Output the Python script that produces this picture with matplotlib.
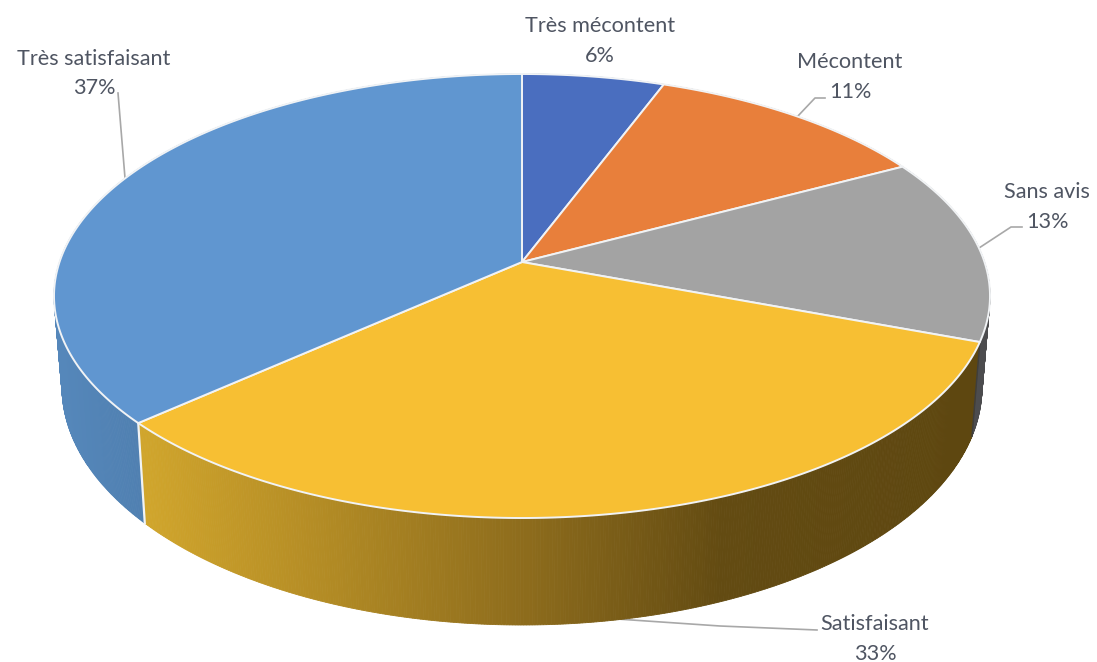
import numpy as np
import matplotlib
matplotlib.use("Agg")
import matplotlib.pyplot as plt
from matplotlib.colors import LinearSegmentedColormap

categories = ["Très mécontent", "Mécontent", "Sans avis", "Satisfaisant", "Très satisfaisant"]
values = [5.7, 11.49, 13.49, 32.7, 36.62]
top_colors = ["#4A6EBF", "#E87F3B", "#A3A3A3", "#F7BF33", "#6096D0"]
label_pos = [(600, 26), (850, 62), (1047, 192), (875, 624), (94, 59)]
leaders = [None,
           [(797, 117), (815, 98), (825, 98)],
           [(979, 248), (1011, 227), (1022, 227)],
           [(617, 619), (720, 626), (817, 630)],
           [(125, 178), (118, 93)]]

CX, CY, RX, RY, T = 522, 296, 468, 222, 0.153      # top face
LX, LY, LRY = 460, 387, 238                        # lower rim
EDGE = "#F1F3F5"
TEXT = "#4F5562"


def project(frac, rx, cy, ry):
    """Map a pie fraction (clockwise from 12 o'clock) onto the tilted disc."""
    a = 2 * np.pi * np.asarray(frac)
    u, v = np.sin(a), np.cos(a)
    d = 1 + T * v
    return CX + rx * u * np.sqrt(1 - T ** 2) / d, cy - ry * (v + T) / d


apex = (CX, CY - RY * T)
yellow_side = LinearSegmentedColormap.from_list(
    "y", [(0, "#D0A52C"), (0.2, "#B58D25"), (0.47, "#8C6B1C"), (0.7, "#634B12"), (1, "#5E4710")])
blue_side = LinearSegmentedColormap.from_list("b", ["#5587BA", "#4F7FB0"])
side_fn = {
    0: lambda x: "#3A5790", 1: lambda x: "#9A5424",
    2: lambda x: "#4C4C4E",
    3: lambda x: yellow_side(np.clip((x - 143) / (972 - 143), 0, 1)),
    4: lambda x: blue_side(np.clip((x - 60) / 85, 0, 1)),
}

fig = plt.figure(figsize=(10.97, 6.62), dpi=100, facecolor="white")
ax = fig.add_axes([0, 0, 1, 1])
ax.set_xlim(0, 1097)
ax.set_ylim(662, 0)
ax.axis("off")

cum = np.concatenate([[0], np.cumsum(values) / np.sum(values)])

# Sides
for i in range(len(values)):
    f = np.linspace(cum[i], cum[i + 1], max(int(values[i] * 12), 2) + 1)
    xt, yt = project(f, RX, CY, RY)
    xb, yb = project(f, LX, LY, LRY)
    for j in range(len(f) - 1):
        c = side_fn[i]((xt[j] + xt[j + 1]) / 2)
        ax.fill([xt[j], xt[j + 1], xb[j + 1], xb[j]],
                [yt[j], yt[j + 1], yb[j + 1], yb[j]],
                color=c, lw=0.6, zorder=1 + (yb[j] > 300))
    if i == 3:
        ax.plot([xt[0], xb[0]], [yt[0], yb[0]], color="#3E3E3E", lw=1, zorder=3)
    if i == 4:
        ax.plot([xt[0], xb[0]], [yt[0], yb[0]], color=EDGE, lw=1.6, zorder=3)

# Top face
for i in range(len(values)):
    f = np.linspace(cum[i], cum[i + 1], 200)
    x, y = project(f, RX, CY, RY)
    ax.fill(np.r_[apex[0], x], np.r_[apex[1], y], facecolor=top_colors[i],
            edgecolor=EDGE, lw=1.4, joinstyle="round", zorder=4)

# Labels
for name, val, (lx, ly), pts in zip(categories, values, label_pos, leaders):
    ax.text(lx, ly, f"{name}", ha="center", va="center", fontsize=15.6,
            family="Lato", color=TEXT, zorder=6)
    ax.text(lx, ly + 29.5, f"{round(val)}%", ha="center", va="center", fontsize=15.6,
            family="Lato", color=TEXT, zorder=6)
    if pts:
        ax.plot(*zip(*pts), color="#A8A8A8", lw=1.2, zorder=0.5)

fig.savefig("out.png", dpi=100, facecolor="white")
